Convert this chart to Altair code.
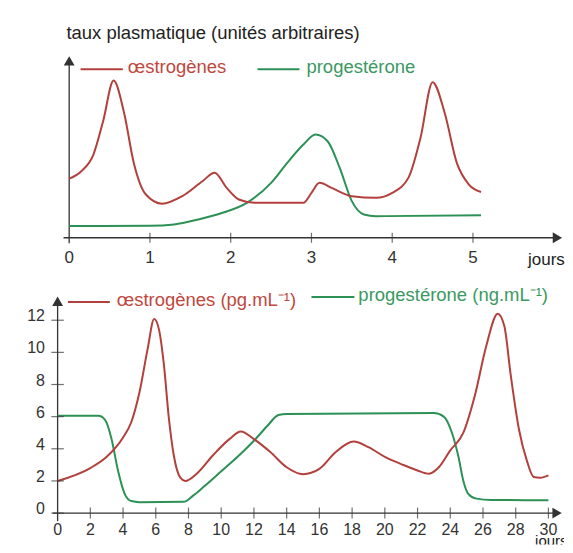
import altair as alt
import pandas as pd

# ---------------- data ----------------
# Top chart: plasma level (arbitrary units) vs days
top_estro_day = [0.0, 0.15, 0.3, 0.42, 0.55, 0.68, 0.8, 0.95, 1.15, 1.4, 1.65, 1.8, 1.95, 2.1, 2.3,
                 2.9, 3.0, 3.1, 3.25, 3.5, 3.8, 4.0, 4.2, 4.35, 4.5, 4.65, 4.8, 4.95, 5.1]
top_estro_val = [3.55, 4.0, 5.0, 7.0, 9.45, 7.5, 4.5, 2.6, 2.05, 2.5, 3.4, 3.9, 3.0, 2.3, 2.1,
                 2.1, 2.7, 3.3, 3.0, 2.5, 2.4, 2.7, 3.6, 6.0, 9.35, 7.5, 4.5, 3.2, 2.75]
top_prog_day = [0.0, 1.0, 1.3, 1.6, 1.9, 2.2, 2.5, 2.7, 2.9, 3.05, 3.2, 3.35, 3.5, 3.65, 3.8, 5.1]
top_prog_val = [0.7, 0.72, 0.8, 1.1, 1.5, 2.1, 3.3, 4.5, 5.6, 6.2, 5.8, 4.2, 2.2, 1.4, 1.3, 1.35]
top_x_ticks = [0, 1, 2, 3, 4, 5]

# Bottom chart: oestrogens (pg/mL) and progesterone (ng/mL) vs days
bot_estro_day = [0, 2, 3, 4, 4.5, 5, 5.5, 5.9, 6.2, 6.5, 6.8, 7.1, 7.5, 7.8, 8.5, 9.5, 10.5, 11.2,
                 12, 13, 14, 15, 16, 17, 18.1, 19, 20, 21, 22, 22.7, 23.3, 24, 24.8, 25.5, 26.2,
                 26.9, 27.3, 27.7, 28.2, 28.7, 29.1, 29.5, 30]
bot_estro_val = [2.0, 2.8, 3.5, 4.7, 5.65, 7.5, 10.2, 12.07, 11.4, 9.2, 5.9, 3.6, 2.2, 2.0, 2.45,
                 3.6, 4.6, 5.07, 4.6, 3.8, 2.85, 2.42, 2.75, 3.8, 4.45, 4.1, 3.5, 3.05, 2.65, 2.45,
                 2.85, 3.9, 5.0, 7.3, 10.4, 12.4, 11.65, 8.55, 5.2, 3.2, 2.25, 2.2, 2.35]
bot_prog_day = [0, 2.5, 2.9, 3.3, 3.7, 4.1, 4.5, 5, 7.7, 8.3, 9, 10, 11, 12, 12.8, 13.5, 14, 23,
                23.6, 24.1, 24.5, 24.8, 25.1, 25.6, 26.5, 30]
bot_prog_val = [6.05, 6.05, 5.8, 4.6, 2.6, 1.2, 0.75, 0.68, 0.7, 1.1, 1.7, 2.6, 3.5, 4.5, 5.4, 6.1,
                6.17, 6.22, 6.0, 5.0, 3.5, 2.0, 1.2, 0.9, 0.82, 0.8]
bot_x_ticks = list(range(0, 31, 2))
bot_y_ticks = list(range(0, 13, 2))

# ---------------- styles ----------------
RED = "#b2403d"
RED_TXT = "#c0473d"
GREEN = "#2c9155"
GREEN_TXT = "#3b9962"
AXIS = "#333333"
FONT = "Liberation Sans"

W = 557
H_TOP = 264
H_BOT = 273


def domain(origin_px, px_per_unit, size_px, invert=False):
    if invert:  # vertical: origin measured from top of panel
        return [-(size_px - origin_px) / px_per_unit, origin_px / px_per_unit]
    return [-origin_px / px_per_unit, (size_px - origin_px) / px_per_unit]


def panel(sx, sy, series, x_ticks, x_axis_ext, y_axis_ext, x_arrow, y_arrow, tick_size,
          x_label_dy, label_size):
    X = lambda f: alt.X(f, type="quantitative", scale=sx, axis=None)
    Y = lambda f: alt.Y(f, type="quantitative", scale=sy, axis=None)
    layers = []
    # axes lines
    axdf = pd.DataFrame({"x": [x_axis_ext[0]], "x2": [x_axis_ext[1]], "y": [0.0]})
    layers.append(alt.Chart(axdf).mark_rule(color=AXIS, strokeWidth=1.3).encode(
        x=X("x"), x2="x2", y=Y("y")))
    aydf = pd.DataFrame({"x": [0.0], "y": [y_axis_ext[0]], "y2": [y_axis_ext[1]]})
    layers.append(alt.Chart(aydf).mark_rule(color=AXIS, strokeWidth=1.3).encode(
        x=X("x"), y=Y("y"), y2="y2"))
    # arrow heads
    layers.append(alt.Chart(pd.DataFrame({"ax": [x_arrow], "ay": [0.0]})).mark_point(
        shape="triangle-right", filled=True, size=55, fill=AXIS, stroke=AXIS, opacity=1).encode(
        x=X("ax"), y=Y("ay")))
    layers.append(alt.Chart(pd.DataFrame({"ax": [0.0], "ay": [y_arrow]})).mark_point(
        shape="triangle-up", filled=True, size=55, fill=AXIS, stroke=AXIS, opacity=1).encode(
        x=X("ax"), y=Y("ay")))
    # x ticks and labels
    tdf = pd.DataFrame({"x": [t for t in x_ticks if t != 0]})
    tdf["y"] = 0.0
    layers.append(alt.Chart(tdf).mark_tick(orient="vertical", size=tick_size, thickness=1.2,
                                           color=AXIS).encode(x=X("x"), y=Y("y")))
    ldf = pd.DataFrame({"x": x_ticks, "y": [0.0] * len(x_ticks),
                        "t": [str(t) for t in x_ticks]})
    layers.append(alt.Chart(ldf).mark_text(font=FONT, fontSize=label_size, color=AXIS,
                                           baseline="middle", align="center", dy=x_label_dy).encode(
        x=X("x"), y=Y("y"), text="t:N"))
    # data lines
    for days, vals, col in series:
        d = pd.DataFrame({"day": days, "val": vals})
        layers.append(alt.Chart(d).mark_line(color=col, strokeWidth=2, interpolate="monotone").encode(
            x=X("day"), y=Y("val")))
    return layers


def txt(s, x, y, color, size=18.5, **kw):
    return alt.Chart(pd.DataFrame({"a": [0]})).mark_text(
        text=s, font=FONT, fontSize=size, color=color, align="left", baseline="middle", **kw
    ).encode(x=alt.value(x), y=alt.value(y))


def seg(x1, x2, y, color):
    return alt.Chart(pd.DataFrame({"a": [0]})).mark_rule(color=color, strokeWidth=2).encode(
        x=alt.value(x1), x2=alt.value(x2), y=alt.value(y))


# ---------------- top panel ----------------
sx_top = alt.Scale(domain=domain(61.3, 80.9, W), nice=False, zero=False)
sy_top = alt.Scale(domain=domain(229.7, 16.67, H_TOP, invert=True), nice=False, zero=False)
top_layers = panel(sx_top, sy_top,
                   [(top_prog_day, top_prog_val, GREEN), (top_estro_day, top_estro_val, RED)],
                   top_x_ticks, (-0.07, 6.02), (-0.33, 10.5), 6.04, 10.6, 10, 20, 17)

top_layers += [
    txt("taux plasmatique (unités arbitraires)", 58.5, 25, "#222222"),
    seg(72.7, 115, 61, RED), txt("œstrogènes", 120, 59, RED_TXT),
    seg(250, 292, 61, GREEN), txt("progestérone", 299, 59, GREEN_TXT),
    txt("jours", 521, 252, "#222222", size=17),
]
top = alt.layer(*top_layers).properties(width=W, height=H_TOP)

# ---------------- bottom panel ----------------
sx_bot = alt.Scale(domain=domain(49.7, 16.39, W), nice=False, zero=False)
sy_bot = alt.Scale(domain=domain(241.5, 16.1, H_BOT, invert=True), nice=False, zero=False)
bot_layers = panel(sx_bot, sy_bot,
                   [(bot_prog_day, bot_prog_val, GREEN), (bot_estro_day, bot_estro_val, RED)],
                   bot_x_ticks, (-0.3, 30.45), (-0.5, 13.1), 30.5, 13.15, 11, 17, 16)

ydf = pd.DataFrame({"x": [0.0] * len(bot_y_ticks), "y": bot_y_ticks,
                    "t": [str(t) for t in bot_y_ticks]})
bot_layers.append(alt.Chart(ydf).mark_tick(orient="horizontal", size=12.5, thickness=1.2,
                                           color=AXIS).encode(
    x=alt.X("x:Q", scale=sx_bot, axis=None), y=alt.Y("y:Q", scale=sy_bot, axis=None)))
bot_layers.append(alt.Chart(ydf).mark_text(font=FONT, fontSize=16, color=AXIS, align="right",
                                           baseline="middle", dx=-12.7, dy=-4).encode(
    x=alt.X("x:Q", scale=sx_bot, axis=None), y=alt.Y("y:Q", scale=sy_bot, axis=None), text="t:N"))

bot_layers += [
    seg(60, 102, 30, RED), txt("œstrogènes (pg.mL⁻¹)", 109, 28, RED_TXT),
    seg(304, 347, 25, GREEN), txt("progestérone (ng.mL⁻¹)", 351, 23, GREEN_TXT),
    txt("jours", 528, 269.5, "#222222", size=15, clip=True),
]
bottom = alt.layer(*bot_layers).properties(width=W, height=H_BOT)

chart = alt.vconcat(top, bottom, spacing=0).properties(padding=0).configure_view(stroke=None)

chart.save("out.html", embed_options={"renderer": "svg", "actions": False})
